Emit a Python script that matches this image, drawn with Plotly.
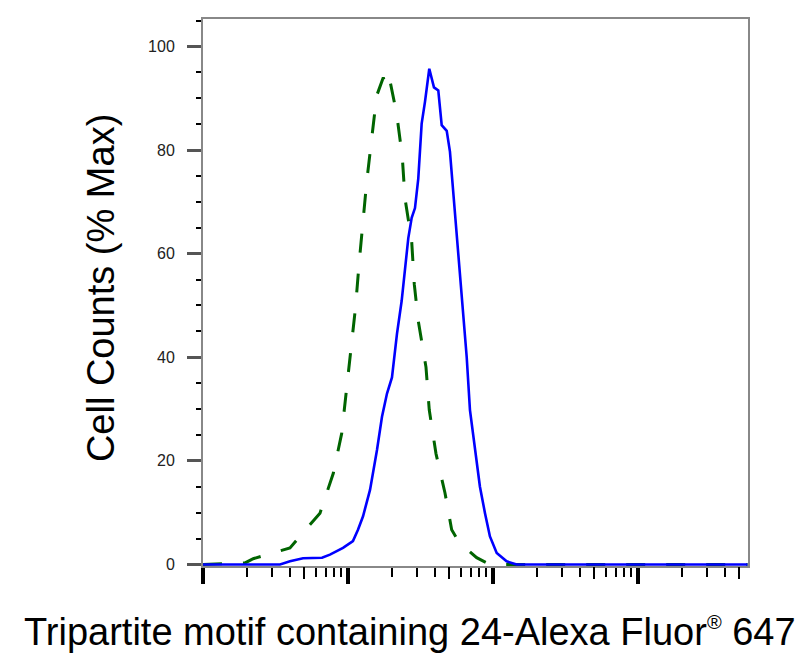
import plotly.graph_objects as go

# ---------------- data ----------------
# blue solid histogram (stained sample): fluorescence intensity vs % max
blue_x = [100, 180, 340, 398, 490, 662, 751, 924, 1082, 1172, 1270, 1419, 1585, 1716,
          1858, 2011, 2177, 2346, 2472, 2606, 2750, 2898, 3054, 3222, 3396, 3637,
          3918, 4196, 4429, 4797, 5050, 5620, 6140, 6590, 6940, 7510, 8130, 8810,
          9530, 10610, 12420, 14560, 570000]
blue_y = [0, 0, 0, 0.6, 1.2, 1.3, 1.9, 3.2, 4.5, 6.7, 9.3, 14.4, 22.1, 28.5,
          33, 36.1, 44.5, 50.9, 57.3, 63, 66.9, 68.8, 74.5, 85.1, 89.3, 95.7,
          92.1, 91.5, 84.8, 83.7, 79.7, 63, 50.9, 40, 29.8, 22.1, 15, 9.9,
          5.4, 2.2, 0.6, 0, 0]

# green dashed histogram (control)
green_x = [100, 195, 222, 398, 641, 792, 905, 969, 1044, 1127, 1191, 1262, 1346,
           1457, 1578, 1752, 1849, 1950, 2167, 2368, 2472, 2750, 2866, 3054,
           3451, 3637, 4045, 4667, 5190, 5860, 7720, 9530, 570000]
green_y = [0, 0.3, 1.1, 3.2, 9.9, 17.6, 25.3, 33, 41.3, 49.6, 57.9, 65.9, 73.9,
           82.2, 90.5, 94.0, 91.8, 93.3, 87, 78.7, 70.7, 62.4, 54.1, 47,
           38.1, 29.8, 21.4, 13.8, 6.7, 4.2, 1.3, 0, 0]

y_ticks = [0, 20, 40, 60, 80, 100]
y_ticktext = ["0", "20", "40", "60", "80", "100"]
x_decades = [100, 1000, 10000, 100000]
x_minor = [m * d for d in [100, 1000, 10000, 100000] for m in [2, 3, 4, 6, 7, 8, 9]]
x_fives = [500, 5000, 50000, 500000]

x_title = ("Tripartite motif containing 24-Alexa Fluor"
           "<sup><span style='font-size:20px'>®</span></sup> 647")
y_title = "Cell Counts (% Max)"

# ---------------- figure ----------------
XR = [2, 5.759]
YR = [-0.3, 105.3]
FONT = "Liberation Sans, Arial, sans-serif"

fig = go.Figure()
fig.add_trace(go.Scatter(x=green_x, y=green_y, mode="lines",
                         line=dict(color="#006400", width=3, dash="19px,21px"),
                         hoverinfo="skip", showlegend=False))
fig.add_trace(go.Scatter(x=blue_x, y=blue_y, mode="lines",
                         line=dict(color="#0000FF", width=2.6),
                         hoverinfo="skip", showlegend=False))
# helper trace so the secondary tick axis is instantiated (single point, draws nothing)
fig.add_trace(go.Scatter(x=blue_x[:1], y=blue_y[:1], mode="lines", xaxis="x2",
                         hoverinfo="skip", showlegend=False, line=dict(width=0)))

fig.update_layout(
    width=810, height=662,
    margin=dict(l=195, r=70, t=9, b=104),
    paper_bgcolor="white", plot_bgcolor="white",
    font=dict(family=FONT, color="black"),
    xaxis=dict(type="log", range=XR, showgrid=False, zeroline=False,
               showline=True, linecolor="#888888", linewidth=2, mirror=True,
               tickmode="array", tickvals=x_decades, ticks="outside",
               ticklen=16, tickwidth=3.5, tickcolor="black",
               showticklabels=False,
               minor=dict(tickmode="array", tickvals=x_minor, ticks="outside",
                          ticklen=9, tickwidth=2, tickcolor="black")),
    xaxis2=dict(type="log", range=XR, overlaying="x", anchor="y", side="bottom",
                showgrid=False, zeroline=False, showline=False,
                tickmode="array", tickvals=x_fives, ticks="outside",
                ticklen=12, tickwidth=2, tickcolor="black", showticklabels=False),
    yaxis=dict(range=YR, showgrid=False, zeroline=False,
               showline=True, linecolor="#888888", linewidth=2, mirror=True,
               tickmode="array", tickvals=y_ticks, ticktext=y_ticktext,
               ticks="outside", ticklen=14, tickwidth=3, tickcolor="#555555",
               ticklabelstandoff=9,
               tickfont=dict(family=FONT, size=16, color="#222222"),
               minor=dict(dtick=5, tick0=0, ticks="outside", ticklen=5,
                          tickwidth=2, tickcolor="black")),
    annotations=[
        dict(text=x_title, xref="paper", yref="paper", x=(410 - 203) / 545,
             y=-0.12, xanchor="center", yanchor="middle", showarrow=False,
             font=dict(family=FONT, size=38, color="black")),
        dict(text=y_title, xref="paper", yref="paper", x=(101 - 203) / 545,
             y=0.508, xanchor="center", yanchor="middle", showarrow=False,
             textangle=-90, font=dict(family=FONT, size=38, color="black")),
    ],
)

fig.write_html("out.html")
